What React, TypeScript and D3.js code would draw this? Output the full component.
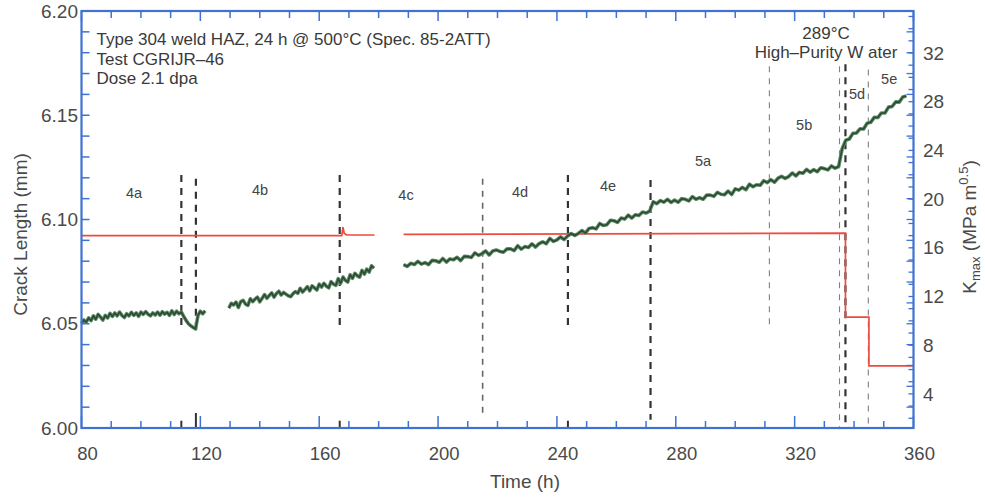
import React from 'react';
import * as d3 from 'd3';

// ---------- data ----------
const xTickValues = [80, 120, 160, 200, 240, 280, 320, 360];
const yTickValues = [6.0, 6.05, 6.1, 6.15, 6.2];
const kTickValues = [4, 8, 12, 16, 20, 24, 28, 32];

// crack length (mm), segment 1 (uniform sampling)
const seg1Start = 80;
const seg1Step = 0.8;
const seg1 = [
  6.0500, 6.0518, 6.0508, 6.0528, 6.0515, 6.0538, 6.0522, 6.0545, 6.0532, 6.0518,
  6.0540, 6.0528, 6.0550, 6.0535, 6.0552, 6.0538, 6.0556, 6.0540, 6.0530, 6.0548,
  6.0538, 6.0555, 6.0540, 6.0552, 6.0536, 6.0556, 6.0545, 6.0558, 6.0546, 6.0538,
  6.0552, 6.0542, 6.0556, 6.0541, 6.0558, 6.0546, 6.0555, 6.0540, 6.0562, 6.0544,
  6.0560, 6.0548, 6.0556, 6.0535, 6.0516, 6.0500, 6.0490, 6.0482, 6.0475, 6.0540,
  6.0560, 6.0548, 6.0562,
];

const seg2Start = 129.6;
const seg2Step = 0.8;
const seg2 = [
  6.0575, 6.0598, 6.0590, 6.0604, 6.0578, 6.0606, 6.0612, 6.0594, 6.0588, 6.0620,
  6.0606, 6.0618, 6.0628, 6.0605, 6.0622, 6.0640, 6.0622, 6.0636, 6.0648, 6.0628,
  6.0645, 6.0656, 6.0638, 6.0650, 6.0642, 6.0634, 6.0630, 6.0644, 6.0654, 6.0646,
  6.0670, 6.0652, 6.0664, 6.0678, 6.0658, 6.0682, 6.0672, 6.0662, 6.0690, 6.0676,
  6.0694, 6.0680, 6.0672, 6.0702, 6.0690, 6.0684, 6.0716, 6.0694, 6.0724, 6.0708,
  6.0700, 6.0735, 6.0718, 6.0742, 6.0730, 6.0724, 6.0756, 6.0738, 6.0762, 6.0748,
  6.0778, 6.0766,
];

const seg3Start = 188.4;
const seg3Step = 1.2;
const seg3 = [
  6.0784, 6.0775, 6.0790, 6.0784, 6.0799, 6.0786, 6.0793, 6.0784, 6.0804, 6.0802,
  6.0795, 6.0813, 6.0796, 6.0811, 6.0807, 6.0819, 6.0803, 6.0823, 6.0822, 6.0818,
  6.0840, 6.0828, 6.0836, 6.0849, 6.0830, 6.0849, 6.0854, 6.0847, 6.0843, 6.0859,
  6.0859, 6.0851, 6.0874, 6.0858, 6.0870, 6.0866, 6.0883, 6.0868, 6.0884, 6.0893,
  6.0884, 6.0909, 6.0895, 6.0902, 6.0917, 6.0904, 6.0921, 6.0933, 6.0923, 6.0933,
  6.0947, 6.0935, 6.0957, 6.0961, 6.0955, 6.0981, 6.0971, 6.0975, 6.0996, 6.0994,
  6.0986, 6.1007, 6.1002, 6.1021, 6.1007, 6.1023, 6.1019, 6.1036, 6.1031, 6.1040,
  6.1085, 6.1076, 6.1091, 6.1083, 6.1097, 6.1082, 6.1093, 6.1083, 6.1100, 6.1097,
  6.1089, 6.1110, 6.1097, 6.1105, 6.1097, 6.1117, 6.1117, 6.1111, 6.1130, 6.1121,
  6.1119, 6.1136, 6.1120, 6.1147, 6.1141, 6.1154, 6.1143, 6.1169, 6.1157, 6.1167,
  6.1164, 6.1186, 6.1177, 6.1191, 6.1179, 6.1198, 6.1207, 6.1197, 6.1206, 6.1223,
  6.1209, 6.1226, 6.1222, 6.1240, 6.1227, 6.1239, 6.1229, 6.1248, 6.1244, 6.1238,
  6.1257, 6.1246, 6.1254, 6.1340, 6.1380, 6.1386, 6.1413, 6.1415, 6.1435, 6.1434,
  6.1462, 6.1466, 6.1490, 6.1489, 6.1511, 6.1511, 6.1539, 6.1542, 6.1564, 6.1563,
  6.1588, 6.1592,
];

// Kmax (MPa m^0.5)
const kSeg1T = [80, 167.6, 168.0, 168.4, 169.2, 178.6];
const kSeg1V = [17.0, 17.0, 17.7, 17.2, 17.05, 17.05];
const kSeg2T = [188.4, 337.1, 337.1, 345.0, 345.0, 360];
const kSeg2V = [17.1, 17.2, 10.3, 10.3, 6.3, 6.3];

// test stage boundaries
const boundaryTimes = [113.6, 118.5, 166.9, 215.0, 243.7, 271.5, 311.5, 335.1, 337.1, 344.8];
const boundaryTop = [6.1213, 6.1195, 6.1213, 6.1195, 6.1213, 6.1190, 6.1735, 6.1735, 6.1745, 6.1720];
const boundaryBottom = [6.047, 6.049, 6.047, 6.0045, 6.047, 6.004, 6.047, 6.0, 6.0, 6.0];
const boundaryKind = ['bold', 'bold', 'bold', 'mid', 'bold', 'bold', 'thin', 'thin', 'bold', 'thin'];
const stubTimes = [113.6, 118.5, 166.9, 243.7];
const stubTop = [6.0035, 6.0072, 6.0035, 6.0035];

const stageNames = ['4a', '4b', '4c', '4d', '4e', '5a', '5b', '5d', '5e'];
const stageT = [97.7, 140.1, 189.2, 227.6, 257.2, 289.2, 323.2, 341.0, 351.8];
const stageY = [6.1103, 6.1118, 6.1094, 6.1108, 6.1138, 6.1257, 6.1429, 6.1578, 6.165];

const infoLines = [
  'Type 304 weld HAZ, 24 h @ 500°C (Spec. 85-2ATT)',
  'Test CGRIJR–46',
  'Dose 2.1 dpa',
];
const envLines = ['289°C', 'High–Purity W ater'];

// ---------- chart ----------
const FONT = 'Liberation Sans, Arial, Helvetica, sans-serif';
const AXIS = '#3f72d2';
const LABEL = '#4a4a4a';

export default function App() {
  const x = d3.scaleLinear().domain([80, 360]).range([81.5, 913.5]);
  const y = d3.scaleLinear().domain([6.0, 6.2]).range([428, 11]);
  const k = d3.scaleLinear().domain([1.2, 35.45]).range([428, 11]);

  const toPts = (start: number, step: number, vals: number[]) =>
    vals.map((v, i) => [start + step * i, v] as [number, number]);
  const crackLine = d3
    .line<[number, number]>()
    .x((d) => x(d[0]))
    .y((d) => y(d[1]));
  const kLine = d3
    .line<[number, number]>()
    .x((d) => x(d[0]))
    .y((d) => k(d[1]));

  const greenPaths = [
    crackLine(toPts(seg1Start, seg1Step, seg1)),
    crackLine(toPts(seg2Start, seg2Step, seg2)),
    crackLine(toPts(seg3Start, seg3Step, seg3)),
  ];
  const redPaths = [
    kLine(kSeg1T.map((t, i) => [t, kSeg1V[i]] as [number, number])),
    kLine(kSeg2T.map((t, i) => [t, kSeg2V[i]] as [number, number])),
  ];

  const [x0, x1] = x.range();
  const yB = y(6.0);
  const yT = y(6.2);

  const xMinor = d3.range(80, 361, 10);
  const yMinor = d3.range(0, 21).map((i) => 6 + i * 0.01);
  const kMinor = d3.range(2, 36, 1);

  const dashStyle: Record<string, { stroke: string; w: number; dash: string }> = {
    bold: { stroke: '#333', w: 2.2, dash: '7,6' },
    mid: { stroke: '#666', w: 1.6, dash: '6,6' },
    thin: { stroke: '#808080', w: 1.1, dash: '6,6' },
  };

  return (
    <svg
      width={985}
      height={497}
      style={{ position: 'absolute', left: 0, top: 0, display: 'block', background: '#fff' }}
      fontFamily={FONT}
    >
      <rect x={0} y={0} width={985} height={497} fill="#fff" />

      {/* stage boundary lines */}
      {boundaryTimes.map((t, i) => {
        const s = dashStyle[boundaryKind[i]];
        return (
          <line
            key={'b' + i}
            x1={x(t)}
            x2={x(t)}
            y1={y(boundaryTop[i])}
            y2={y(boundaryBottom[i])}
            stroke={s.stroke}
            strokeWidth={s.w}
            strokeDasharray={s.dash}
          />
        );
      })}
      {stubTimes.map((t, i) => (
        <line
          key={'s' + i}
          x1={x(t)}
          x2={x(t)}
          y1={y(6.0)}
          y2={y(stubTop[i])}
          stroke="#333"
          strokeWidth={2}
        />
      ))}

      {/* Kmax */}
      {redPaths.map((d, i) => (
        <path key={'r' + i} d={d || ''} fill="none" stroke="#ef4a3f" strokeWidth={1.7} />
      ))}

      {/* crack length */}
      {greenPaths.map((d, i) => (
        <g key={'g' + i}>
          <path d={d || ''} fill="none" stroke="#5f8c67" strokeWidth={3.6} strokeLinejoin="round" />
          <path d={d || ''} fill="none" stroke="#2b4a33" strokeWidth={1.6} strokeLinejoin="round" />
        </g>
      ))}

      {/* ticks: bottom & top */}
      {xMinor.map((t) => {
        const major = (t - 80) % 40 === 0;
        const len = major ? 12 : 7;
        return (
          <g key={'xt' + t}>
            <line x1={x(t)} x2={x(t)} y1={yB} y2={yB - len} stroke={AXIS} strokeWidth={1.5} />
            <line x1={x(t)} x2={x(t)} y1={yT} y2={yT + (major ? 10 : 7)} stroke={AXIS} strokeWidth={1.5} />
          </g>
        );
      })}
      {/* ticks: left & mirrored right */}
      {yMinor.map((v, i) => (
        <g key={'yt' + i}>
          <line x1={x0} x2={x0 + 8} y1={y(v)} y2={y(v)} stroke={AXIS} strokeWidth={1.5} />
          <line x1={x1} x2={x1 - 7} y1={y(v)} y2={y(v)} stroke={AXIS} strokeWidth={1.3} />
        </g>
      ))}
      {kMinor.map((v) => (
        <line key={'kt' + v} x1={x1} x2={x1 - 5} y1={k(v)} y2={k(v)} stroke={AXIS} strokeWidth={1.3} />
      ))}

      {/* frame */}
      <rect x={x0} y={yT} width={x1 - x0} height={yB - yT} fill="none" stroke={AXIS} strokeWidth={2.2} />

      {/* tick labels */}
      {xTickValues.map((t) => (
        <text key={'xl' + t} x={x(t) + 6} y={460} textAnchor="middle" fontSize={18.5} fill={LABEL}>
          {t}
        </text>
      ))}
      {yTickValues.map((v) => (
        <text key={'yl' + v} x={78} y={y(v)} dy="0.35em" textAnchor="end" fontSize={19} fill={LABEL}>
          {v.toFixed(2)}
        </text>
      ))}
      {kTickValues.map((v) => (
        <text key={'kl' + v} x={923} y={k(v)} dy="0.35em" textAnchor="start" fontSize={19} fill={LABEL}>
          {v}
        </text>
      ))}

      {/* axis titles */}
      <text x={525} y={488} textAnchor="middle" fontSize={19} fill={LABEL}>
        Time (h)
      </text>
      <text transform="translate(27,234.5) rotate(-90)" textAnchor="middle" fontSize={19} fill={LABEL}>
        Crack Length (mm)
      </text>
      <text transform="translate(976,227) rotate(-90)" textAnchor="middle" fontSize={19} fill={LABEL}>
        K
        <tspan fontSize={13} dy={4}>
          max
        </tspan>
        <tspan dy={-4}> (MPa m</tspan>
        <tspan fontSize={13} dy={-8}>
          0.5
        </tspan>
        <tspan dy={8}>)</tspan>
      </text>

      {/* info block */}
      {infoLines.map((s, i) => (
        <text key={'i' + i} x={96.5} y={45 + i * 19.5} fontSize={17} fill="#3a3a3a">
          {s}
        </text>
      ))}
      {envLines.map((s, i) => (
        <text key={'e' + i} x={826} y={39 + i * 18.5} textAnchor="middle" fontSize={17} fill="#3a3a3a">
          {s}
        </text>
      ))}

      {/* stage labels */}
      {stageNames.map((n, i) => (
        <text key={'st' + i} x={x(stageT[i])} y={y(stageY[i])} textAnchor="middle" fontSize={14.5} fill="#444">
          {n}
        </text>
      ))}
    </svg>
  );
}
